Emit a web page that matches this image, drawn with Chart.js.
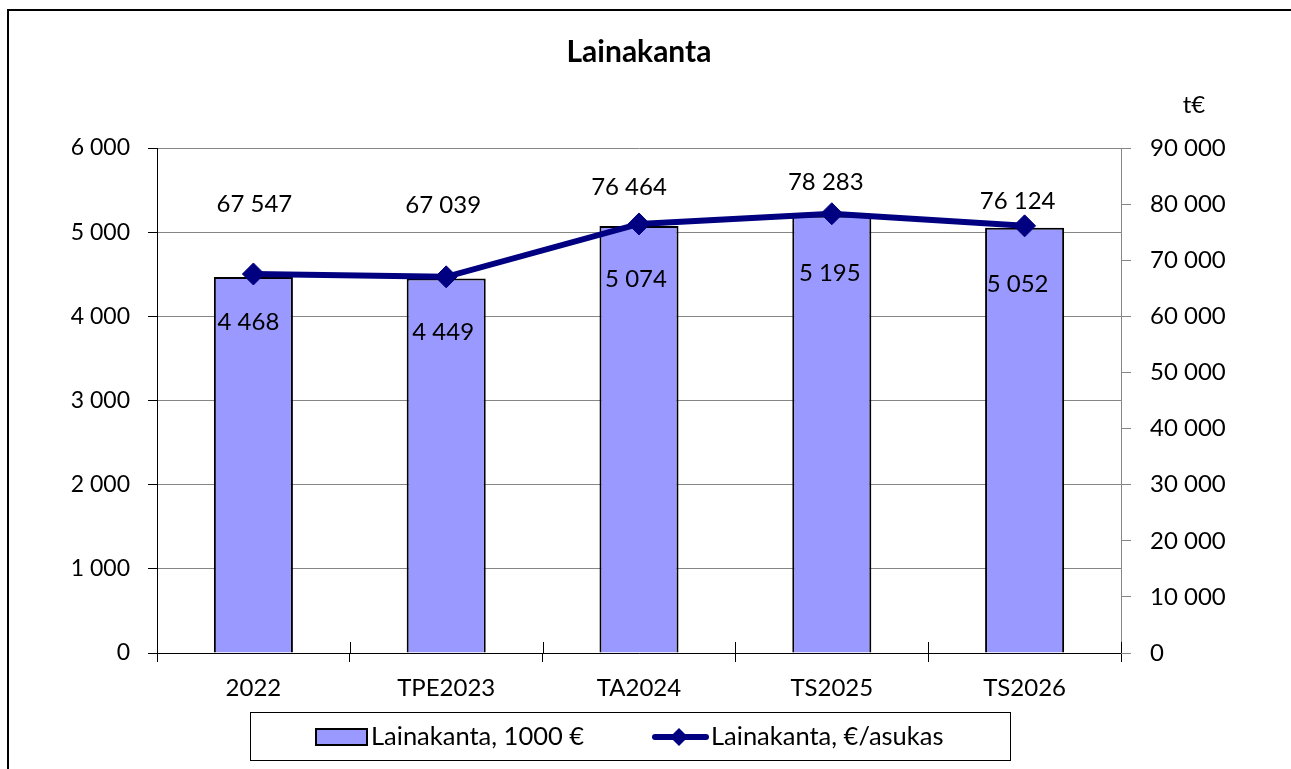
<!DOCTYPE html>
<html>
<head>
<meta charset="utf-8">
<script src="https://cdn.jsdelivr.net/npm/chart.js@4"></script>
<style>
  html, body { margin: 0; padding: 0; background: #fff; }
  canvas { display: block; }
</style>
</head>
<body>
<canvas id="c" width="1291" height="769"></canvas>
<script>
// ---- data ----
const categories = ['2022', 'TPE2023', 'TA2024', 'TS2025', 'TS2026'];
const loanStock = [4468, 4449, 5074, 5195, 5052];            // 1000 €
const loanPerResident = [67547, 67039, 76464, 78283, 76124]; // €/asukas
const leftTickValues = [0, 1000, 2000, 3000, 4000, 5000, 6000];
const rightTickValues = [0, 10000, 20000, 30000, 40000, 50000, 60000, 70000, 80000, 90000];
const seriesNames = ['Lainakanta, 1000 €', 'Lainakanta, €/asukas'];
const chartTitle = 'Lainakanta';
const rightAxisUnit = 't€';

// label nudges (pixels, relative to each mark)
const lineLabelDx = [1, -3, -10, -6, -7];
const lineLabelDy = [-71, -73, -38, -33, -26];
const barLabelDx = [-5, -3, -3, -2, -7];
const barLabelDy = [44, 52, 52, 56, 55];

const FONT = 'Lato, "Open Sans", "DejaVu Sans", sans-serif';
const BAR_FILL = '#9999FF';
const LINE_COLOR = '#000080';
const GRID = '#868686';

function fmt(v) {
  return String(Math.round(v)).replace(/\B(?=(\d{3})+(?!\d))/g, ' ');
}

const decorPlugin = {
  id: 'decor',
  afterDraw(chart) {
    const ctx = chart.ctx;
    const area = chart.chartArea;
    ctx.save();
    // outer frame (top + left)
    ctx.strokeStyle = '#000';
    ctx.lineWidth = 2;
    ctx.beginPath();
    ctx.moveTo(8, 769);
    ctx.lineTo(8, 10);
    ctx.lineTo(1291, 10);
    ctx.stroke();

    // title
    ctx.fillStyle = '#000';
    ctx.font = 'bold 30px ' + FONT;
    ctx.textAlign = 'center';
    ctx.textBaseline = 'middle';
    ctx.fillText(chartTitle, 639, 52);

    // right-axis unit
    ctx.font = '24px ' + FONT;
    ctx.fillText(rightAxisUnit, 1194, 105);

    // inward part of category-boundary ticks
    const xs = chart.scales.x;
    const n = categories.length;
    ctx.strokeStyle = '#000';
    ctx.lineWidth = 1;
    for (let i = 0; i <= n; i++) {
      const x = Math.round(xs.left + i * (xs.width / n)) + 0.5;
      ctx.beginPath();
      ctx.moveTo(x, area.bottom - 11);
      ctx.lineTo(x, area.bottom);
      ctx.stroke();
    }

    // data labels
    ctx.fillStyle = '#000';
    ctx.font = '24px ' + FONT;
    ctx.textAlign = 'center';
    ctx.textBaseline = 'alphabetic';
    const barMeta = chart.getDatasetMeta(0);
    barMeta.data.forEach((el, i) => {
      ctx.fillText(fmt(loanStock[i]), el.x + barLabelDx[i], el.y + barLabelDy[i] + 9);
    });
    const lineMeta = chart.getDatasetMeta(1);
    lineMeta.data.forEach((el, i) => {
      ctx.fillText(fmt(loanPerResident[i]), el.x + lineLabelDx[i], el.y + lineLabelDy[i] + 9);
    });

    // legend
    ctx.strokeStyle = '#000';
    ctx.lineWidth = 1;
    ctx.strokeRect(250.5, 712.5, 760, 48);
    ctx.fillStyle = BAR_FILL;
    ctx.fillRect(316, 729, 51, 16);
    ctx.lineWidth = 2;
    ctx.strokeRect(316, 729, 51, 16);
    ctx.fillStyle = '#000';
    ctx.font = '25.5px ' + FONT;
    ctx.textAlign = 'left';
    ctx.textBaseline = 'middle';
    ctx.fillText(seriesNames[0], 371, 737);

    ctx.strokeStyle = LINE_COLOR;
    ctx.lineWidth = 6;
    ctx.lineCap = 'round';
    ctx.beginPath();
    ctx.moveTo(655, 737);
    ctx.lineTo(706, 737);
    ctx.stroke();
    ctx.fillStyle = LINE_COLOR;
    ctx.beginPath();
    ctx.moveTo(679, 728);
    ctx.lineTo(688, 737);
    ctx.lineTo(679, 746);
    ctx.lineTo(670, 737);
    ctx.closePath();
    ctx.fill();
    ctx.fillStyle = '#000';
    ctx.fillText(seriesNames[1], 711, 737);
    ctx.restore();
  }
};

new Chart(document.getElementById('c'), {
  data: {
    labels: categories,
    datasets: [
      {
        type: 'bar',
        label: seriesNames[0],
        data: loanStock,
        yAxisID: 'y',
        backgroundColor: BAR_FILL,
        borderColor: '#000',
        borderWidth: 2,
        barPercentage: 0.41,
        categoryPercentage: 1.0,
        order: 2
      },
      {
        type: 'line',
        label: seriesNames[1],
        data: loanPerResident,
        yAxisID: 'y1',
        borderColor: LINE_COLOR,
        backgroundColor: LINE_COLOR,
        borderWidth: 6,
        pointStyle: 'rectRot',
        pointRadius: 11,
        pointHoverRadius: 11,
        pointBackgroundColor: LINE_COLOR,
        pointBorderColor: LINE_COLOR,
        pointBorderWidth: 1,
        tension: 0,
        order: 1
      }
    ]
  },
  options: {
    responsive: false,
    animation: false,
    events: [],
    layout: { padding: { left: 0, right: 0, top: 148, bottom: 63 } },
    plugins: {
      legend: { display: false },
      title: { display: false },
      tooltip: { enabled: false }
    },
    scales: {
      x: {
        offset: true,
        grid: {
          display: true,
          offset: true,
          drawOnChartArea: false,
          drawTicks: true,
          tickLength: 9,
          color: '#000',
          tickColor: '#000'
        },
        border: { display: true, color: '#000', width: 1 },
        ticks: {
          color: '#000',
          font: { family: FONT, size: 24 },
          padding: 12,
          maxRotation: 0
        },
        afterFit(s) { s.height = 53; }
      },
      y: {
        position: 'left',
        min: 0,
        max: 6000,
        afterBuildTicks(s) { s.ticks = leftTickValues.map(v => ({ value: v })); },
        grid: {
          color: GRID,
          tickColor: '#000',
          tickLength: 9,
          drawTicks: true
        },
        border: { display: true, color: '#000', width: 1 },
        ticks: {
          color: '#000',
          font: { family: FONT, size: 23 },
          padding: 18,
          callback: v => fmt(v)
        },
        afterFit(s) { s.width = 157; }
      },
      y1: {
        position: 'right',
        min: 0,
        max: 90000,
        afterBuildTicks(s) { s.ticks = rightTickValues.map(v => ({ value: v })); },
        grid: {
          drawOnChartArea: false,
          drawTicks: true,
          tickLength: 10,
          color: GRID,
          tickColor: GRID
        },
        border: { display: true, color: GRID, width: 1 },
        ticks: {
          color: '#000',
          font: { family: FONT, size: 24 },
          padding: 19,
          callback: v => fmt(v)
        },
        afterFit(s) { s.width = 170; }
      }
    }
  },
  plugins: [decorPlugin]
});
</script>
</body>
</html>
